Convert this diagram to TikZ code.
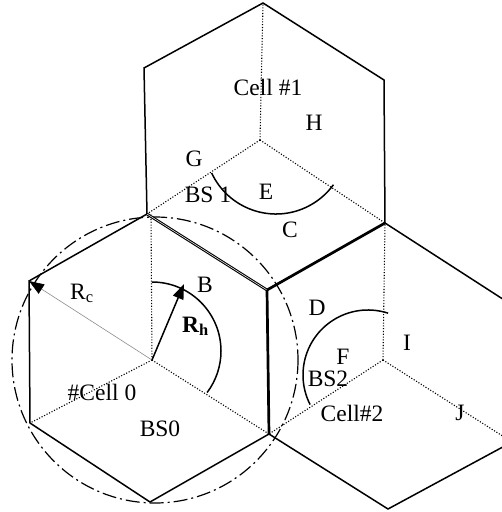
\documentclass[tikz,border=0pt]{standalone}
\usepackage{fontspec}
\setmainfont{Liberation Serif}
\usetikzlibrary{arrows.meta}
\begin{document}
\begin{tikzpicture}[x=1pt,y=-1pt,
  edge/.style={line width=1.5pt, line join=miter},
  shared/.style={line width=2.7pt},
  spoke/.style={line width=1.1pt, dash pattern=on 1.1pt off 1.7pt},
  sect/.style={line width=1.5pt},
  dashdot/.style={line width=1.2pt, dash pattern=on 14pt off 4pt on 2pt off 4pt},
  lbl/.style={font=\fontsize{23.5}{24}\selectfont, inner sep=0pt, anchor=base},
  tip/.style={-{Triangle[length=15pt,width=11pt,color=black]}}]
\useasboundingbox (0,0) rectangle (502,512);
\clip (0,0) rectangle (502,512);
% hexagon 0
\coordinate (T0) at (147,214);
\coordinate (TR0) at (267,290);
\coordinate (BR0) at (269,434);
\coordinate (B0) at (150,502);
\coordinate (BL0) at (30,423);
\coordinate (TL0) at (29,281);
\coordinate (C0) at (152,360);
\coordinate (S0) at (151,214);
% hexagon 1
\coordinate (T1) at (263,3);
\coordinate (TR1) at (384,80);
\coordinate (BR1) at (385,223);
\coordinate (TL1) at (144,68);
\coordinate (C1) at (260,140);
% hexagon 2
\coordinate (TR2) at (512,305);
\coordinate (BR2) at (512,442);
\coordinate (B2) at (388,509);
\coordinate (C2) at (383,360);
% circle
\draw[dashdot] (155,360) circle[radius=143];
% spokes
\draw[spoke] (C0) -- (S0) (C0) -- (BL0) (C0) -- (BR0);
\draw[spoke] (C1) -- (T1) (C1) -- (T0) (C1) -- (BR1);
\draw[spoke] (C2) -- (BR1) (C2) -- (BR0) (C2) -- (BR2);
% hex edges
\draw[edge] (TR0) -- (BR0) -- (B0) -- (BL0) -- (TL0) -- (T0);
\draw[edge] (T0) -- (TL1) -- (T1) -- (TR1) -- (BR1);
\draw[edge] (BR1) -- (TR2) -- (BR2) -- (B2) -- (BR0);
\draw[line width=1.1pt, double, double distance=0.5pt] (T0) -- (TR0);
\draw[shared] (TR0) -- (BR1);
\draw[shared] (TR0) -- (BR0);
% sector arcs
\draw[sect] ([shift={(152,351)}]-90:69) arc[start angle=-90, end angle=37, radius=69];
\draw[sect] ([shift={(276,143)}]155:71) arc[start angle=155, end angle=36, radius=71];
\draw[sect] ([shift={(368,375)}]-72:65) arc[start angle=-72, end angle=-207, radius=65];
% radii
\coordinate (RH) at (184,284);
\draw[line width=0.6pt, draw=black!45, tip] (C0) -- (TL0);
\draw[line width=1.5pt, tip] (C0) -- (RH);
% labels
\node[lbl] (cell1) at (268,95) {Cell \#1};
\node[lbl] (H) at (314,130) {H};
\node[lbl] (G) at (194,166) {G};
\node[lbl] (bs1) at (208,202) {BS 1};
\node[lbl] (E) at (266,199) {E};
\node[lbl] (C) at (290,237) {C};
\node[lbl] (B) at (205,292) {B};
\node[lbl, anchor=base west] (rc) at (70,299) {R\textsubscript{c}};
\node[lbl, anchor=base west] (rh) at (182,332) {\textbf{R\textsubscript{h}}};
\node[lbl] (cell0) at (102,400) {\#Cell 0};
\node[lbl] (bs0) at (160,436) {BS0};
\node[lbl] (D) at (317,315) {D};
\node[lbl] (I) at (407,350) {I};
\node[lbl] (F) at (343,364) {F};
\node[lbl] (bs2) at (328,386) {BS2};
\node[lbl] (cell2) at (352,421) {Cell\#2};
\node[lbl] (J) at (460,420) {J};
\end{tikzpicture}
\end{document}
